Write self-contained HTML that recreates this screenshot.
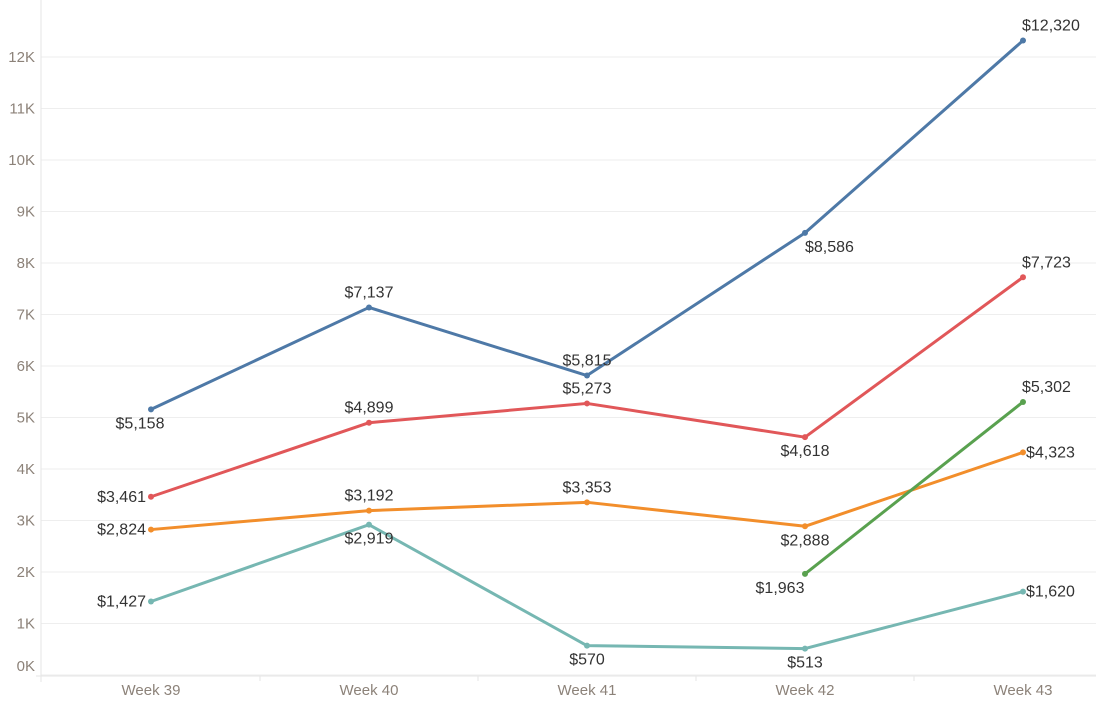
<!DOCTYPE html>
<html><head><meta charset="utf-8"><style>
body{margin:0;background:#fff;}
svg text{font-family:"Liberation Sans",sans-serif;}
</style></head><body>
<svg id="chart" width="1096" height="719" xmlns="http://www.w3.org/2000/svg"></svg>
<script>
const categories = ["Week 39","Week 40","Week 41","Week 42","Week 43"];
const yTicks = [0,1,2,3,4,5,6,7,8,9,10,11,12];
const blueValues = [5158,7137,5815,8586,12320];
const redValues = [3461,4899,5273,4618,7723];
const orangeValues = [2824,3192,3353,2888,4323];
const tealValues = [1427,2919,570,513,1620];
const greenValues = [null,null,null,1963,5302];
const blueLabelPos = ["bl","a","a","br","ar"];
const redLabelPos = ["l","a","a","b","ar"];
const orangeLabelPos = ["l","a","a","b","r"];
const tealLabelPos = ["l","b","b","b","r"];
const greenLabelPos = [null,null,null,"bl2","ar"];

const svg = document.getElementById('chart');
const NS = "http://www.w3.org/2000/svg";
const x = i => 151 + i*218;
const y = v => 675 - (v/1000)*51.5;
function mk(tag, attrs){const e=document.createElementNS(NS,tag);for(const k in attrs)e.setAttribute(k,attrs[k]);svg.appendChild(e);return e;}

yTicks.forEach(t=>{
  const g=mk('line',{x1:41,x2:1096,y1:y(t*1000),y2:y(t*1000),stroke:'#eeeeee','stroke-width':1});
  
  
  const ly = t===0 ? 671 : y(t*1000)+5;
  const tx=mk('text',{x:35,y:ly,'text-anchor':'end','font-size':15,fill:'#8c8279'});
  tx.textContent=t+'K';
  
  
});
const ax=mk('line',{x1:41,x2:41,y1:0,y2:682,stroke:'#e6e6e6'});


const bx=mk('line',{x1:36,x2:1096,y1:676,y2:676,stroke:'#e6e6e6'});


categories.forEach((c,i)=>{
  if(i>0){const tk=mk('line',{x1:x(i)-109,x2:x(i)-109,y1:676,y2:681,stroke:'#e6e6e6'});
  
  }
  const t=mk('text',{x:x(i),y:695,'text-anchor':'middle','font-size':15,fill:'#8c8279'});
  t.textContent=c;
  
  
});

const series=[
  ['blue',blueValues,blueLabelPos,'#4e79a7'],
  ['red',redValues,redLabelPos,'#e15759'],
  ['orange',orangeValues,orangeLabelPos,'#f28e2b'],
  ['teal',tealValues,tealLabelPos,'#76b7b2'],
  ['green',greenValues,greenLabelPos,'#59a14f']
];
const offs={a:[0,-10,'middle'],b:[0,19,'middle'],l:[-5,5,'end'],r:[3,5,'start'],ar:[-1,-10,'start'],br:[0,19,'start'],bl:[-11,19,'middle'],bl2:[-25,19,'middle']};
const fmt=v=>'$'+v.toLocaleString('en-US');
series.forEach(([name,vals,pos,col])=>{
  const pts=[];vals.forEach((v,i)=>{if(v!=null)pts.push([x(i),y(v),v,pos[i]]);});
  const pl=mk('polyline',{points:pts.map(p=>p[0]+','+p[1]).join(' '),fill:'none',stroke:col,'stroke-width':3,'stroke-linejoin':'round'});
  
  
});
series.forEach(([name,vals,pos,col])=>{
  vals.forEach((v,i)=>{
    if(v==null)return;
    const c=mk('circle',{cx:x(i),cy:y(v),r:3,fill:col});
    
    
    const o=offs[pos[i]];
    const t=mk('text',{x:x(i)+o[0],y:y(v)+o[1],'text-anchor':o[2],'font-size':16,fill:'#333'});
    t.textContent=fmt(v);
    
    
  });
});
</script>
</body></html>
